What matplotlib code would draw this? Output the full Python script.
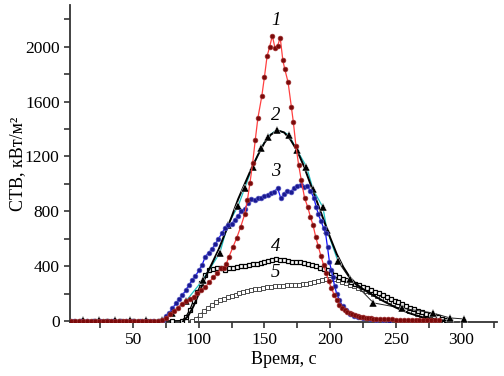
import matplotlib
matplotlib.use("Agg")
import matplotlib.pyplot as plt
from matplotlib.ticker import MultipleLocator

plt.rcParams['font.family'] = ['Liberation Serif', 'DejaVu Serif']
plt.rcParams['mathtext.fontset'] = 'stix'

# ---------------- data ----------------
# Series 1 (red line, maroon circles)
t1 = [0, 3, 6, 9, 12, 15, 18, 21, 24, 27, 30, 33, 36, 39, 42, 45, 48, 51, 54, 57, 60, 63, 66, 69, 72,
      75, 78, 81, 84, 87, 90, 93, 96, 99, 102, 105, 108, 111, 114, 117, 119, 121, 123, 126, 129, 132,
      135, 137, 139, 141, 143, 145, 148, 150, 152, 154, 156, 158, 160, 162, 164, 165.5, 168, 170.5,
      172, 174, 176, 178, 180.5, 183, 185, 187, 189, 191, 193, 195, 197, 199, 201, 203, 205, 207, 209,
      211, 213, 215, 217, 219, 221, 223, 225, 227, 229, 231, 233, 235, 238, 241, 244, 247, 250, 253,
      256, 259, 262, 265, 268, 271, 274, 277, 280, 283]
v1 = [5, 5, 5, 5, 5, 5, 5, 5, 5, 5, 5, 5, 5, 5, 5, 5, 5, 5, 5, 5, 5, 5, 5, 5, 8,
      25, 50, 75, 100, 125, 145, 160, 180, 205, 225, 250, 285, 320, 350, 385, 390, 420, 470, 540, 610, 690,
      780, 880, 1010, 1150, 1320, 1480, 1640, 1780, 1930, 2000, 2080, 1990, 2005, 2065, 1900, 1835, 1740, 1560,
      1450, 1275, 1140, 1030, 900, 830, 760, 700, 615, 545, 475, 410, 350, 290, 240, 195, 155, 120, 95,
      80, 68, 58, 50, 43, 38, 33, 29, 26, 24, 22, 20, 19, 17, 16, 15, 14, 13, 12,
      12, 11, 11, 10, 10, 9, 9, 9, 8, 8]

# Series 3 (blue line, dark blue circles)
t3 = [0, 5, 10, 15, 20, 25, 30, 35, 40, 45, 50, 55, 60, 65, 70, 72.5, 75, 77.5, 80, 82.5, 85, 87.5, 90,
      92.5, 95, 97.5, 100, 102.5, 105, 107.5, 110, 112.5, 115, 117.5, 120, 122.5, 125, 127.5, 130, 132.5,
      135, 137.5, 140, 142.5, 145, 147.5, 150, 152.5, 155, 157.5, 160, 162.5, 165, 167.5, 170, 172.5, 175,
      177.5, 180, 182.5, 185, 187.5, 189.5, 191, 193, 195, 196.5, 198, 199.5, 201, 202, 203.5, 205, 207,
      209.5, 212, 215, 218, 221, 225, 230, 235, 240, 245]
v3 = [5, 5, 5, 5, 5, 5, 5, 5, 5, 5, 5, 5, 5, 5, 5, 10, 40, 60, 95, 130, 160, 190, 225,
      265, 300, 330, 370, 410, 470, 500, 525, 560, 600, 640, 680, 700, 710, 740, 770, 800,
      820, 860, 890, 880, 900, 895, 910, 920, 935, 945, 970, 895, 930, 950, 945, 970, 985,
      995, 975, 985, 950, 900, 830, 780, 730, 680, 640, 540, 430, 370, 320, 255, 200, 155,
      110, 80, 55, 40, 30, 22, 15, 10, 7, 5]

# Series 2 (black triangles, cyan data line, black fitted curve)
t2 = [0, 12, 24, 36, 48, 60, 72, 80, 90.5, 103, 116, 122, 130, 135, 141, 147.5, 152.5, 159.5, 168.5,
      174.5, 182, 187, 194.5, 197.5, 206, 215, 233, 255, 278, 291, 302]
v2 = [8, 8, 8, 8, 8, 8, 8, 60, 150, 300, 497, 700, 840, 970, 1127, 1261, 1345, 1395, 1360,
      1250, 1127, 960, 830, 667, 436, 310, 134, 95, 61, 25, 17]
t2fit = [88, 92, 96, 100, 105, 110, 115, 120, 125, 130, 135, 140, 145, 150, 155, 160, 165, 170, 175,
         180, 185, 190, 195, 200, 205, 210, 215, 220, 225, 230, 240, 250, 260, 270, 280, 290]
v2fit = [0, 40, 110, 200, 320, 420, 520, 640, 760, 890, 1000, 1110, 1210, 1300, 1360, 1390, 1375, 1320, 1240,
         1130, 1000, 870, 740, 610, 490, 395, 320, 270, 235, 205, 150, 100, 60, 30, 12, 3]

# Series 4 (black line, white squares)
t4 = [0, 10, 20, 30, 40, 50, 60, 70, 80, 87, 90, 93, 96, 99, 102, 105, 108, 111, 114, 117, 120, 123, 126,
      129, 132, 135, 138, 141, 144, 147, 150, 153, 156, 159, 162, 165, 168, 171, 174, 177, 180, 183, 186,
      189, 192, 195, 198, 201, 204, 207, 210, 213, 216, 219, 222, 225, 228, 231, 234, 237, 240, 243, 246,
      249, 252, 255, 258, 261, 264, 267, 270, 273, 276, 279, 282, 285, 288, 291]
v4 = [3, 3, 3, 3, 3, 3, 3, 3, 3, 5, 30, 80, 150, 215, 280, 340, 370, 380, 390, 385, 370, 385, 390,
      395, 400, 400, 410, 415, 420, 425, 430, 440, 445, 455, 450, 445, 440, 435, 435, 430, 425, 420, 410,
      400, 390, 380, 370, 355, 340, 325, 310, 298, 285, 275, 265, 250, 240, 228, 215, 205, 195, 180, 165,
      150, 138, 125, 112, 100, 88, 76, 65, 55, 45, 36, 28, 20, 12, 6]

# Series 5 (grey line, small white squares)
t5 = [0, 10, 20, 30, 40, 50, 60, 70, 80, 90, 95, 98, 101, 104, 107, 110, 113, 116, 119, 122, 125, 128,
      131, 134, 137, 140, 143, 146, 149, 152, 155, 158, 161, 164, 167, 170, 173, 176, 179, 182, 185, 188,
      191, 194, 197, 200, 203, 206, 209, 212, 215, 218, 221, 224, 227, 230, 233, 236, 239, 242, 245, 248,
      251, 254, 257, 260, 263, 266, 269, 272, 275, 278, 281, 284, 287]
v5 = [2, 2, 2, 2, 2, 2, 2, 2, 2, 2, 5, 20, 45, 75, 100, 120, 140, 155, 165, 175, 185, 195,
      205, 215, 222, 228, 232, 238, 242, 248, 252, 255, 258, 260, 262, 265, 265, 268, 270, 275, 280, 285,
      290, 300, 305, 310, 305, 298, 288, 278, 268, 258, 246, 234, 222, 210, 198, 186, 172, 160, 146, 132,
      118, 104, 90, 78, 66, 55, 45, 36, 28, 20, 13, 8, 4]

labels = ["1", "2", "3", "4", "5"]
label_t = [158.5, 158.5, 158.5, 158.5, 158.5]
label_v = [2190, 1500, 1090, 545, 352]

# ---------------- plot ----------------
fig = plt.figure(figsize=(5.04, 3.76), dpi=100)
ax = fig.add_axes([70/504, 54/376, 427/504, 317/376])

# series 5
ax.plot(t5, v5, color='#555555', lw=0.8, marker='s', ms=2.4, mfc='white', mec='#333333', mew=0.6, zorder=3)
# series 4
ax.plot(t4, v4, color='black', lw=0.9, marker='s', ms=2.8, mfc='white', mec='black', mew=0.9, zorder=3)
# series 2
n_rise = len([x for x in t2 if x <= 206])
ax.plot(t2[:n_rise], v2[:n_rise], color='#20c0c0', lw=0.9, zorder=4)
ax.plot(t2[n_rise - 1:], v2[n_rise - 1:], color='#222222', lw=0.7, zorder=4)
ax.plot(t2fit, v2fit, color='black', lw=1.4, zorder=5)
ax.plot(t2, v2, ls='none', marker='^', ms=5.5, mfc='black', mec='white', mew=0.3, zorder=6)
# series 3
ax.plot(t3, v3, color='#1010ff', lw=0.9, marker='o', ms=3.4, mfc='#1a1a90', mec='#5050c0', mew=0.5, zorder=7)
# series 1
ax.plot(t1, v1, color='#ff4040', lw=0.9, marker='o', ms=3.4, mfc='#7a0a0a', mec='#a03030', mew=0.5, zorder=8)

for lab, x, y in zip(labels, label_t, label_v):
    ax.text(x, y, lab, fontsize=13.5, style='italic', ha='center', va='center', zorder=10)

ax.set_xlim(2, 327)
ax.set_ylim(-5, 2303)
ax.xaxis.set_major_locator(MultipleLocator(50))
ax.xaxis.set_minor_locator(MultipleLocator(25))
ax.yaxis.set_major_locator(MultipleLocator(400))
ax.yaxis.set_minor_locator(MultipleLocator(200))
ax.set_xticks([50, 100, 150, 200, 250, 300])
for s in ['top', 'right']:
    ax.spines[s].set_visible(False)
for s in ['left', 'bottom']:
    ax.spines[s].set_linewidth(1.3)
    ax.spines[s].set_color('#333333')
ax.tick_params(which='both', direction='out', length=4, width=1.2, colors='#333333', labelcolor='black',
               labelsize=12.5)

ax.set_xlabel("Время, с", fontsize=13)
ax.xaxis.set_label_coords(0.5, -0.093)
ax.set_ylabel("СТВ, кВт/м²", fontsize=13)
ax.yaxis.set_label_coords(-0.103, 0.5)

fig.savefig("out.png", dpi=100)
